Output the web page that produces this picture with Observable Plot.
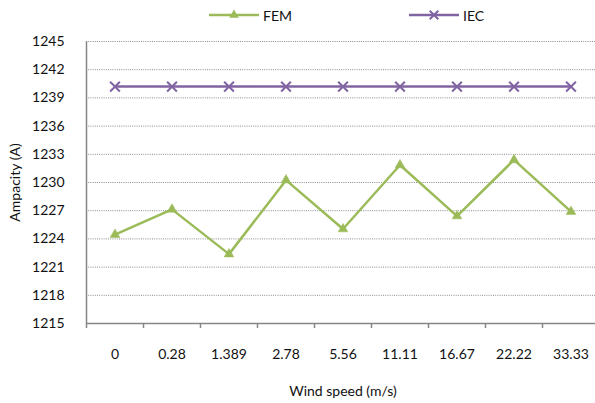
<!DOCTYPE html>
<html><head><meta charset="utf-8">
<script src="https://cdn.jsdelivr.net/npm/d3@7"></script>
<script src="https://cdn.jsdelivr.net/npm/@observablehq/plot@0.6"></script>
<style>
body{margin:0;background:#fff;font-family:Lato,"Open Sans",sans-serif;}
#wrap{position:relative;width:595px;height:403px;overflow:hidden;background:#fff;}
#chart{position:absolute;top:0;left:0;}
.item{position:absolute;top:6px;height:18px;display:flex;align-items:center;font-size:14px;color:#111;font-family:Lato,sans-serif;}
.item svg{margin-right:4px;}
</style></head><body>
<div id="wrap"><div id="chart"></div>
<div class="item" id="legFEM" style="left:209px"></div>
<div class="item" id="legIEC" style="left:409px"></div>
</div>
<script>
const windSpeeds = ["0", "0.28", "1.389", "2.78", "5.56", "11.11", "16.67", "22.22", "33.33"];
const femValues = [1224.46, 1227.14, 1222.38, 1230.25, 1225.05, 1231.86, 1226.43, 1232.4, 1226.9];
const iecValues = [1240.2, 1240.2, 1240.2, 1240.2, 1240.2, 1240.2, 1240.2, 1240.2, 1240.2];
const yTicks = [1215, 1218, 1221, 1224, 1227, 1230, 1233, 1236, 1239, 1242, 1245];
const seriesNames = ["FEM", "IEC"];
const seriesColors = ["#9BBB59", "#8064A2"];

const rows = [];
windSpeeds.forEach((w, i) => {
  rows.push({speed: w, idx: i + 0.5, series: "FEM", value: femValues[i]});
  rows.push({speed: w, idx: i + 0.5, series: "IEC", value: iecValues[i]});
});
const fem = rows.filter(d => d.series === "FEM");
const iec = rows.filter(d => d.series === "IEC");
const boundaries = d3.range(0, windSpeeds.length + 1);
const axisGray = "#868686";

const chart = Plot.plot({
  width: 595,
  height: 403,
  marginTop: 41,
  marginBottom: 80,
  marginLeft: 86,
  marginRight: -4,
  style: {fontFamily: "Lato, sans-serif", fontSize: "14px", color: "#111", background: "transparent"},
  x: {type: "linear", domain: [0, windSpeeds.length], axis: null},
  y: {domain: [1215, 1245], axis: null},
  marks: [
    Plot.ruleY(yTicks.filter(d => d > 1215), {stroke: "#8a8a8a", strokeWidth: 1, strokeDasharray: "1,1.2"}),
    Plot.axisY({ticks: yTicks, tickSize: 0, tickPadding: 22, tickFormat: d => String(d), fill: "#111", label: null}),
    Plot.axisX({ticks: boundaries, tickSize: 5, tickFormat: () => "", stroke: axisGray, strokeWidth: 1.5, label: null}),
    Plot.ruleX([0], {stroke: axisGray, strokeWidth: 1.5}),
    Plot.ruleY([1215], {stroke: axisGray, strokeWidth: 1.5}),
    Plot.text(windSpeeds, {x: (d, i) => i + 0.5, frameAnchor: "bottom", dy: 31, lineAnchor: "middle", fill: "#111"}),
    Plot.text(["Wind speed (m/s)"], {frameAnchor: "bottom", dy: 68, lineAnchor: "middle", fill: "#111"}),
    Plot.text(["Ampacity (A)"], {frameAnchor: "left", dx: -71, rotate: -90, textAnchor: "middle", fill: "#111"}),
    Plot.line(iec, {x: "idx", y: "value", stroke: seriesColors[1], strokeWidth: 2.5}),
    Plot.dot(iec, {x: "idx", y: "value", symbol: "times", r: 4.5, stroke: seriesColors[1], strokeWidth: 2}),
    Plot.line(fem, {x: "idx", y: "value", stroke: seriesColors[0], strokeWidth: 2.5}),
    Plot.dot(fem, {x: "idx", y: "value", symbol: "triangle", r: 3.6, fill: seriesColors[0], stroke: seriesColors[0], strokeWidth: 0.5})
  ]
});
document.getElementById("chart").appendChild(chart);

function swatch(color, kind) {
  const ns = "http://www.w3.org/2000/svg";
  const s = document.createElementNS(ns, "svg");
  s.setAttribute("width", 50); s.setAttribute("height", 12);
  const l = document.createElementNS(ns, "line");
  l.setAttribute("x1", 0); l.setAttribute("x2", 50); l.setAttribute("y1", 6); l.setAttribute("y2", 6);
  l.setAttribute("stroke", color); l.setAttribute("stroke-width", 2.5);
  s.appendChild(l);
  const p = document.createElementNS(ns, "path");
  if (kind === "triangle") {
    p.setAttribute("d", d3.symbol(d3.symbolTriangle, 40)());
    p.setAttribute("fill", color);
  } else {
    p.setAttribute("d", d3.symbol(d3.symbolTimes, 50)());
    p.setAttribute("fill", "none"); p.setAttribute("stroke", color); p.setAttribute("stroke-width", 2);
  }
  p.setAttribute("transform", "translate(25,6)");
  s.appendChild(p);
  return s;
}
[["legFEM", 0, "triangle"], ["legIEC", 1, "times"]].forEach(([id, k, kind]) => {
  const el = document.getElementById(id);
  el.appendChild(swatch(seriesColors[k], kind));
  const t = document.createElement("span");
  t.textContent = seriesNames[k];
  el.appendChild(t);
});
</script>
</body></html>
